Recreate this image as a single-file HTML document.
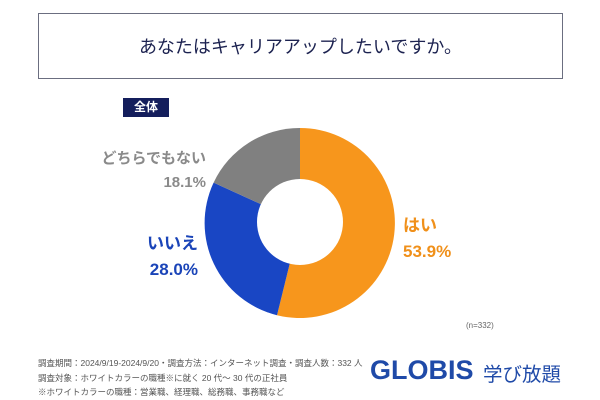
<!DOCTYPE html>
<html><head><meta charset="utf-8"><style>
body{margin:0;width:600px;height:400px;background:#fff;position:relative;overflow:hidden;font-family:"Liberation Sans","Noto Sans CJK JP",sans-serif}
.a{position:absolute;white-space:nowrap}
</style></head><body>
<div class="a" style="left:38px;top:13px;width:523px;height:64px;border:1px solid #6b6e80"></div>
<div class="a" style="left:38px;top:35px;width:525px;text-align:center;font-size:18px;line-height:24px;color:#1c2250">あなたはキャリアアップしたいですか。</div>
<div class="a" style="left:123px;top:98px;width:46px;height:19px;background:#141e5c;color:#fff;font-size:12px;font-weight:bold;text-align:center;line-height:19px">全体</div>
<svg class="a" style="left:0;top:0" width="600" height="400">
<path d="M300,128 A95,95 0 1 1 277.0,315.2 L300,222 Z" fill="#f7961c"/>
<path d="M277.0,315.2 A95,95 0 0 1 213.6,182.6 L300,222 Z" fill="#1946c4"/>
<path d="M213.6,182.6 A95,95 0 0 1 300,128 L300,222 Z" fill="#808080"/>
<circle cx="300" cy="222" r="43" fill="#fff"/>
</svg>
<div class="a" style="left:80px;top:147px;font-size:15px;font-weight:bold;color:#8a8a8a;text-align:right;width:126px;line-height:24px">どちらでもない<br>18.1%</div>
<div class="a" style="left:128px;top:231px;font-size:17px;font-weight:bold;color:#1a44b8;text-align:right;width:70px;line-height:26px">いいえ<br>28.0%</div>
<div class="a" style="left:403px;top:213px;font-size:17px;font-weight:bold;color:#f0901a;line-height:26px">はい<br>53.9%</div>
<div class="a" style="left:466px;top:321px;font-size:8px;color:#666">(n=332)</div>
<div class="a" style="left:38px;top:356px;font-size:8.5px;color:#555;line-height:14.5px">調査期間：2024/9/19-2024/9/20・調査方法：インターネット調査・調査人数：332 人<br>調査対象：ホワイトカラーの職種※に就く 20 代～ 30 代の正社員<br>※ホワイトカラーの職種：営業職、経理職、総務職、事務職など</div>
<div class="a" style="left:370px;top:355px;font-size:27px;font-weight:bold;color:#1f4aa8">GLOBIS</div>
<div class="a" style="left:483px;top:358px;font-size:19.5px;color:#1f4aa8">学び放題</div>
</body></html>
